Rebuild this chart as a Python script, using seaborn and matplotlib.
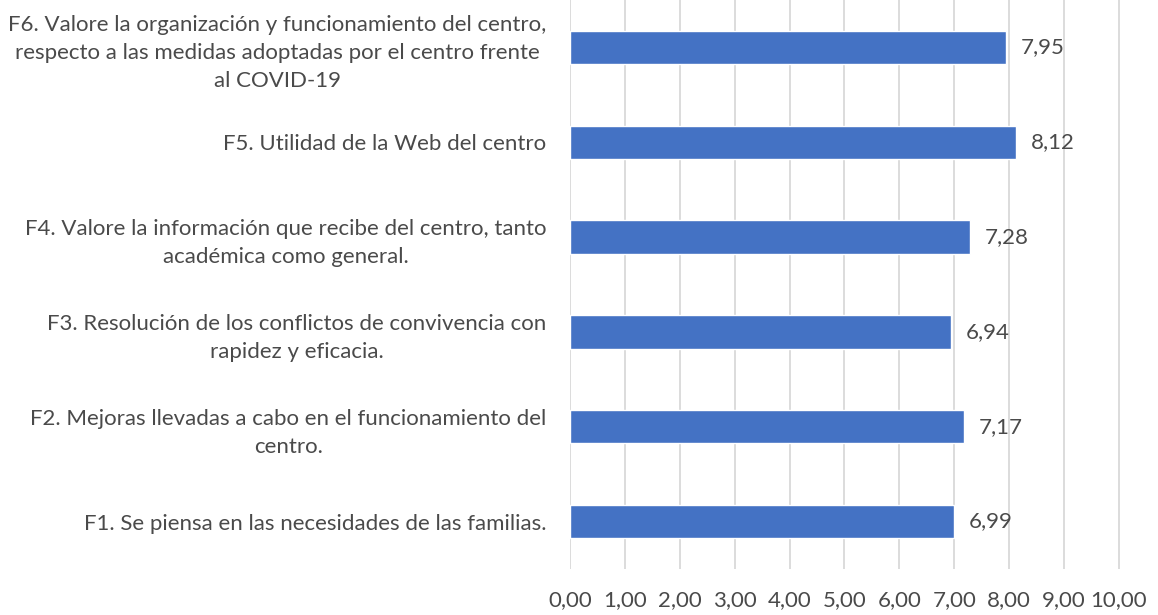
import numpy as np
import pandas as pd
import matplotlib
matplotlib.use("Agg")
import matplotlib.pyplot as plt
import seaborn as sns

# Data (top to bottom)
categories = [
    "F6. Valore la organización y funcionamiento del centro,\nrespecto a las medidas adoptadas por el centro frente\nal COVID-19",
    "F5. Utilidad de la Web del centro",
    "F4. Valore la información que recibe del centro, tanto\nacadémica como general.",
    "F3. Resolución de los conflictos de convivencia con\nrapidez y eficacia.",
    "F2. Mejoras llevadas a cabo en el funcionamiento del\ncentro.",
    "F1. Se piensa en las necesidades de las familias.",
]
values = [7.95, 8.12, 7.28, 6.94, 7.17, 6.99]
x_ticks = [0, 1, 2, 3, 4, 5, 6, 7, 8, 9, 10]

df = pd.DataFrame({"pregunta": categories, "valor": values})

sns.set_style("white")
plt.rcParams["font.family"] = ["Lato", "DejaVu Sans"]
text_color = "#4a4a4a"

fig = plt.figure(figsize=(11.58, 6.15), dpi=100)
ax = fig.add_axes([570 / 1158, 1 - 569 / 615, 550 / 1158, 569 / 615])

sns.barplot(data=df, x="valor", y="pregunta", orient="h", color="#4472C4",
            saturation=1, width=0.35, ax=ax, zorder=3)

for i, v in enumerate(values):
    ax.text(v + 0.27, i, f"{v:.2f}".replace(".", ","), va="center", ha="left",
            fontsize=16, color=text_color)

ax.set_xlim(0, 10.02)
ax.set_ylim(5.5, -0.5)
ax.set_xticks(x_ticks)
ax.set_xticklabels([f"{t:.2f}".replace(".", ",") for t in x_ticks])
ax.grid(axis="x", color="#D9D9D9", linewidth=1.3, zorder=0)
ax.grid(axis="y", visible=False)
for s in ax.spines.values():
    s.set_visible(False)
ax.set_xlabel("")
ax.set_ylabel("")
ax.tick_params(axis="x", length=0, pad=15, labelsize=16, labelcolor=text_color)
ax.tick_params(axis="y", length=0, pad=17, labelsize=16, labelcolor=text_color)
for lbl in ax.get_yticklabels():
    lbl.set_multialignment("center")
    lbl.set_linespacing(1.5)

fig.savefig("out.png", dpi=100)
